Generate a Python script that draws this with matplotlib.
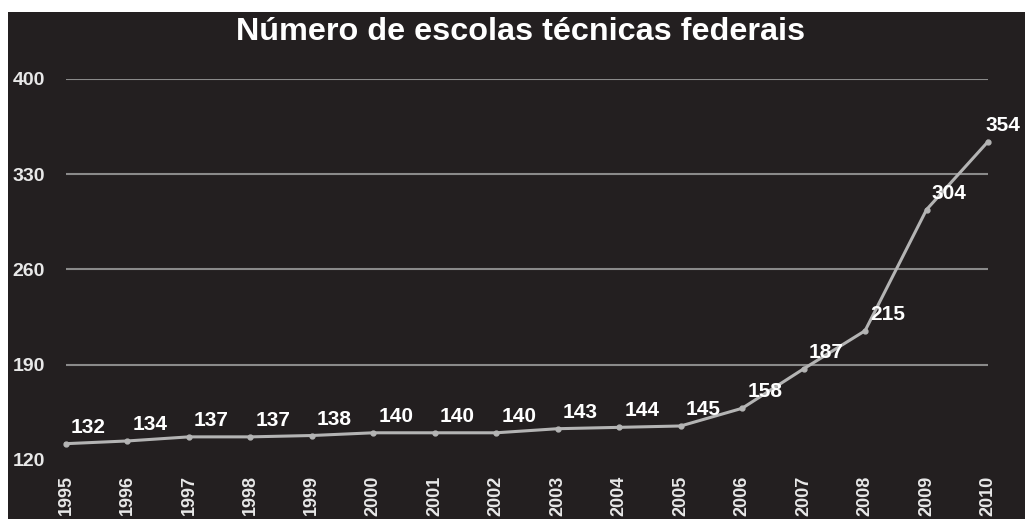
import matplotlib.pyplot as plt
from matplotlib.patches import Rectangle

anos = list(range(1995, 2011))
escolas = [132, 134, 137, 137, 138, 140, 140, 140, 143, 144, 145, 158, 187, 215, 304, 354]
y_ticks = [120, 190, 260, 330, 400]
titulo = 'Número de escolas técnicas federais'

bg = '#231f20'
W, H = 1025, 519
plt.rcParams['font.family'] = ['Liberation Sans', 'DejaVu Sans']

fig = plt.figure(figsize=(W / 100, H / 100), dpi=100, facecolor='white')
# fundo escuro com margem branca em cima e a esquerda
fig.patches.append(Rectangle((8 / W, 0), 1, 1 - 12 / H, transform=fig.transFigure,
                             facecolor=bg, edgecolor='none', zorder=-10))

ax = fig.add_axes([66 / W, 1 - 460 / H, (988 - 66) / W, (460 - 79) / H])
ax.set_facecolor('none')
ax.set_xlim(anos[0], anos[-1])
ax.set_ylim(y_ticks[0], y_ticks[-1])

for v in y_ticks[1:]:
    ax.axhline(v, color='#8a8a8a', lw=1.5, zorder=1)

ax.plot(anos, escolas, color='#b4b4b4', lw=2.2, marker='o', ms=3.5, zorder=3, clip_on=False)

for i, (a, v) in enumerate(zip(anos, escolas)):
    dx = 5 if i < len(anos) - 1 else -2  # ultimo rotulo encostado na borda
    ax.annotate(str(v), (a, v), xytext=(dx, 7), textcoords='offset pixels',
                ha='left', va='bottom', color='white', fontsize=15,
                fontweight='bold', annotation_clip=False)

ax.set_xticks(anos)
ax.set_xticklabels([str(a) for a in anos], rotation=90, va='top', ha='center')
ax.set_yticks(y_ticks)
ax.tick_params(axis='x', length=0, pad=11, labelsize=13, labelcolor='#e8e8e8')
ax.tick_params(axis='y', length=0, pad=15, labelsize=14, labelcolor='#e8e8e8')
for lbl in ax.get_xticklabels() + ax.get_yticklabels():
    lbl.set_fontweight('bold')
for s in ax.spines.values():
    s.set_visible(False)

fig.text(521 / W, 1 - 32 / H, titulo, ha='center', va='center', color='white',
         fontsize=23.3, fontweight='bold')

fig.savefig('out.png', dpi=100, facecolor='white')
